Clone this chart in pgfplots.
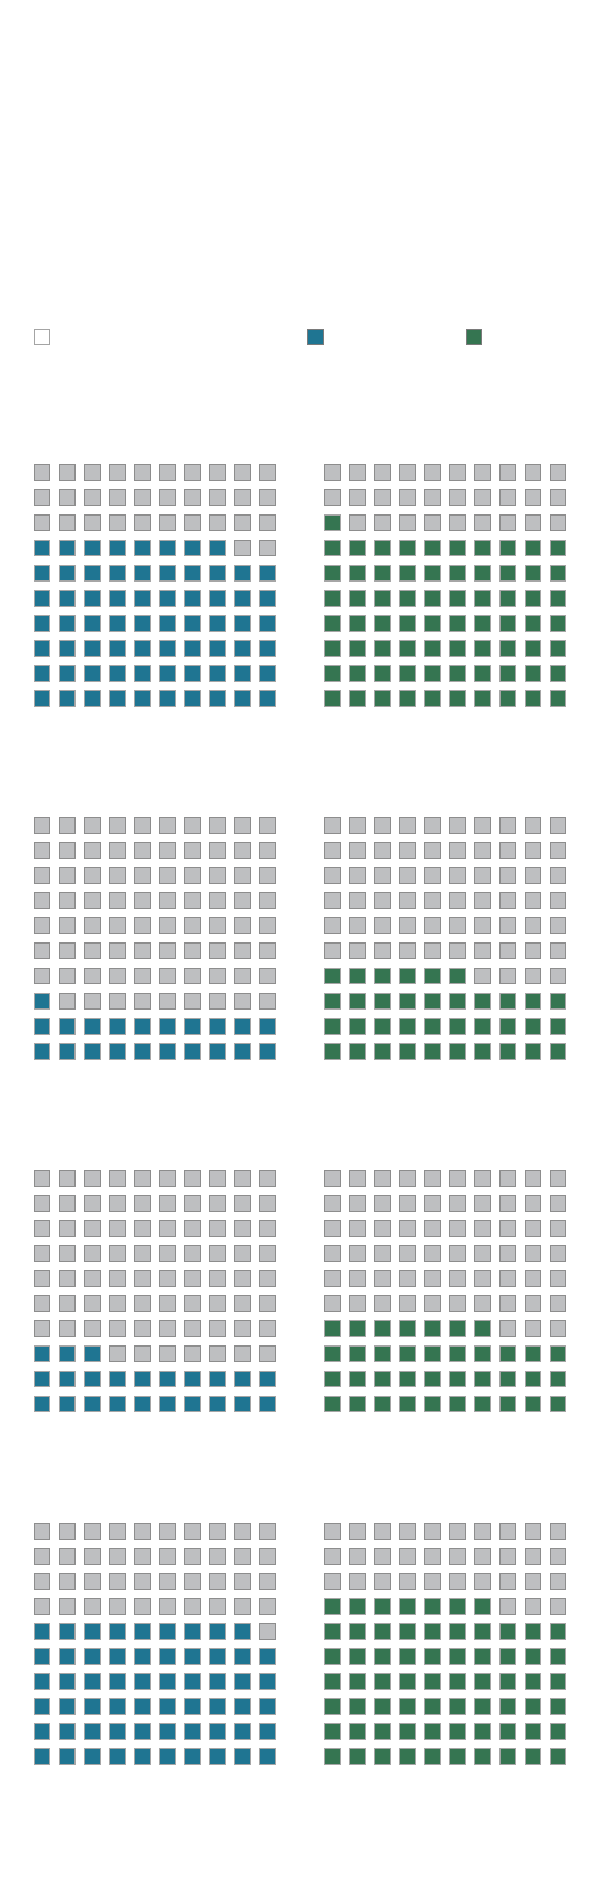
\documentclass[border=0pt]{standalone}
\usepackage{pgfplots}
\usepackage{pgfplotstable}
\pgfplotsset{compat=1.18}
\definecolor{wgray}{HTML}{BEBFC1}
\definecolor{wgrayedge}{HTML}{8D8D8D}
\definecolor{wblue}{HTML}{1F7592}
\definecolor{wgreen}{HTML}{357551}
\definecolor{cedge}{HTML}{A6A6A6}
\definecolor{legedge}{HTML}{7A7A7A}
% waffle cells: i = fill order, c = column (left to right), r = row (bottom to top)
\pgfplotstableread{
i c r
0 0 0
1 1 0
2 2 0
3 3 0
4 4 0
5 5 0
6 6 0
7 7 0
8 8 0
9 9 0
10 0 1
11 1 1
12 2 1
13 3 1
14 4 1
15 5 1
16 6 1
17 7 1
18 8 1
19 9 1
20 0 2
21 1 2
22 2 2
23 3 2
24 4 2
25 5 2
26 6 2
27 7 2
28 8 2
29 9 2
30 0 3
31 1 3
32 2 3
33 3 3
34 4 3
35 5 3
36 6 3
37 7 3
38 8 3
39 9 3
40 0 4
41 1 4
42 2 4
43 3 4
44 4 4
45 5 4
46 6 4
47 7 4
48 8 4
49 9 4
50 0 5
51 1 5
52 2 5
53 3 5
54 4 5
55 5 5
56 6 5
57 7 5
58 8 5
59 9 5
60 0 6
61 1 6
62 2 6
63 3 6
64 4 6
65 5 6
66 6 6
67 7 6
68 8 6
69 9 6
70 0 7
71 1 7
72 2 7
73 3 7
74 4 7
75 5 7
76 6 7
77 7 7
78 8 7
79 9 7
80 0 8
81 1 8
82 2 8
83 3 8
84 4 8
85 5 8
86 6 8
87 7 8
88 8 8
89 9 8
90 0 9
91 1 9
92 2 9
93 3 9
94 4 9
95 5 9
96 6 9
97 7 9
98 8 9
99 9 9
}\cells
\newcommand{\pitch}{25.07}
% #1 = x of first column centre, #2 = y of bottom row centre, #3 = count (of 100), #4 = colour
\newcommand{\waffle}[4]{%
  \addplot[only marks, mark=square*, mark size=5.93pt,
    mark options={fill=wgray, draw=wgrayedge, line width=0.8pt},
    restrict expr to domain={\thisrow{i}}{#3:99}]
    table[x expr={#1+\pitch*\thisrow{c}}, y expr={#2-\pitch*\thisrow{r}}] {\cells};
  \addplot[only marks, mark=square*, mark size=5.93pt,
    mark options={fill=#4, draw=cedge, line width=0.8pt},
    restrict expr to domain={\thisrow{i}+1}{1:#3}]
    table[x expr={#1+\pitch*\thisrow{c}}, y expr={#2-\pitch*\thisrow{r}}] {\cells};
}
\begin{document}
\begin{tikzpicture}
\begin{axis}[
  width=450pt, height=1411.5pt, scale only axis,
  xmin=0, xmax=600, ymin=0, ymax=1882, y dir=reverse,
  hide axis, clip=false]
\path[fill=white] (rel axis cs:0,0) rectangle (rel axis cs:1,1);
% legend markers
\addplot[only marks, mark=square*, mark size=5.93pt,
  mark options={fill=white, draw=wgrayedge!80, line width=0.8pt}] coordinates {(42,337)};
\addplot[only marks, mark=square*, mark size=5.93pt,
  mark options={fill=wblue, draw=legedge, line width=0.8pt}] coordinates {(315.5,337)};
\addplot[only marks, mark=square*, mark size=5.93pt,
  mark options={fill=wgreen, draw=legedge, line width=0.8pt}] coordinates {(474,337)};
% panels
\waffle{42}{698.4}{68}{wblue}
\waffle{332.4}{698.4}{71}{wgreen}
\waffle{42}{1051.2}{21}{wblue}
\waffle{332.4}{1051.2}{36}{wgreen}
\waffle{42}{1404.0}{23}{wblue}
\waffle{332.4}{1404.0}{37}{wgreen}
\waffle{42}{1756.8}{59}{wblue}
\waffle{332.4}{1756.8}{67}{wgreen}
\end{axis}
\end{tikzpicture}
\end{document}
